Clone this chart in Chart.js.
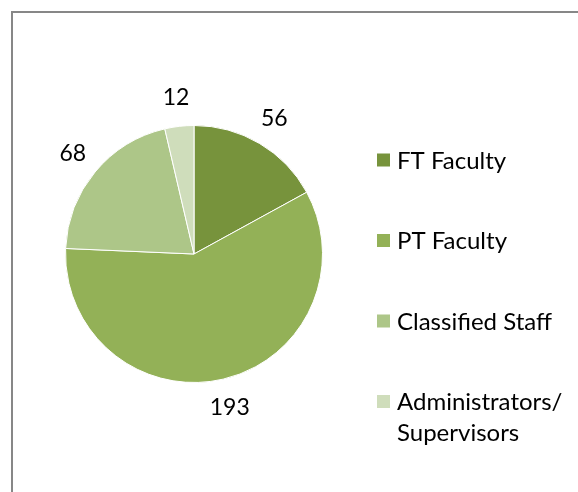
<!DOCTYPE html>
<html>
<head>
<meta charset="utf-8">
<script src="https://cdn.jsdelivr.net/npm/chart.js@4/dist/chart.umd.min.js"></script>
<style>
  html, body { margin: 0; padding: 0; background: #fff; }
  #wrap { position: relative; width: 578px; height: 492px; }
</style>
</head>
<body>
<div id="wrap"><canvas id="staffPie" width="578" height="492"></canvas></div>
<script>
  'use strict';

  // Chart data.
  var categories = ['FT Faculty', 'PT Faculty', 'Classified Staff', 'Administrators/ Supervisors'];
  var headcounts = [56, 193, 68, 12];
  var sliceColors = ['#77933c', '#93b157', '#adc688', '#cfddbb'];

  var FONT = 'Lato, "Open Sans", sans-serif';

  // Frame around the chart (left and top edges show in the crop).
  var framePlugin = {
    id: 'frame',
    beforeDraw: function (chart) {
      var ctx = chart.ctx;
      ctx.save();
      ctx.strokeStyle = '#878787';
      ctx.lineWidth = 2;
      ctx.beginPath();
      ctx.moveTo(12, chart.height + 5);
      ctx.lineTo(12, 12);
      ctx.lineTo(chart.width + 5, 12);
      ctx.stroke();
      ctx.restore();
    }
  };

  // Values outside each slice.
  var outsideLabels = {
    id: 'outsideLabels',
    afterDatasetsDraw: function (chart) {
      var ctx = chart.ctx;
      var meta = chart.getDatasetMeta(0);
      ctx.save();
      ctx.font = '23px ' + FONT;
      ctx.fillStyle = '#000';
      ctx.textAlign = 'center';
      ctx.textBaseline = 'middle';
      meta.data.forEach(function (arc, i) {
        var p = arc.getProps(['x', 'y', 'startAngle', 'endAngle', 'outerRadius'], true);
        var mid = (p.startAngle + p.endAngle) / 2;
        var dist = p.outerRadius + 29;
        ctx.fillText(String(chart.data.datasets[0].data[i]), p.x + Math.cos(mid) * dist, p.y + Math.sin(mid) * dist);
      });
      ctx.restore();
    }
  };

  // Legend on the right, one entry every 80px, long names wrapped.
  var sideLegend = {
    id: 'sideLegend',
    afterDraw: function (chart) {
      var ctx = chart.ctx;
      var ds = chart.data.datasets[0];
      var x0 = 377, box = 13, textX = 397, maxW = 578 - textX - 2;
      var y = 160, step = 80.5, lineH = 31;
      ctx.save();
      ctx.font = '24px ' + FONT;
      ctx.textBaseline = 'middle';
      ctx.textAlign = 'left';
      chart.data.labels.forEach(function (label, i) {
        ctx.fillStyle = ds.backgroundColor[i];
        ctx.fillRect(x0, y - box / 2, box, box);

        // Simple word wrap.
        var words = label.split(' ');
        var lines = [];
        var cur = '';
        words.forEach(function (w) {
          var test = cur ? cur + ' ' + w : w;
          if (cur && ctx.measureText(test).width > maxW) {
            lines.push(cur);
            cur = w;
          }
          else {
            cur = test;
          }
        });
        lines.push(cur);

        ctx.fillStyle = '#000';
        lines.forEach(function (ln, j) {
          ctx.fillText(ln, textX, y + 1 + j * lineH);
        });
        y += step;
      });
      ctx.restore();
    }
  };

  new Chart(document.getElementById('staffPie'), {
    type: 'pie',
    data: {
      labels: categories,
      datasets: [{
        data: headcounts,
        backgroundColor: sliceColors,
        borderColor: '#ffffff',
        borderWidth: 1
      }]
    },
    options: {
      responsive: false,
      animation: false,
      layout: {
        padding: { left: 65, right: 255, top: 125, bottom: 109 }
      },
      plugins: {
        legend: { display: false },
        tooltip: { enabled: false }
      }
    },
    plugins: [framePlugin, outsideLabels, sideLegend]
  });
</script>
</body>
</html>
